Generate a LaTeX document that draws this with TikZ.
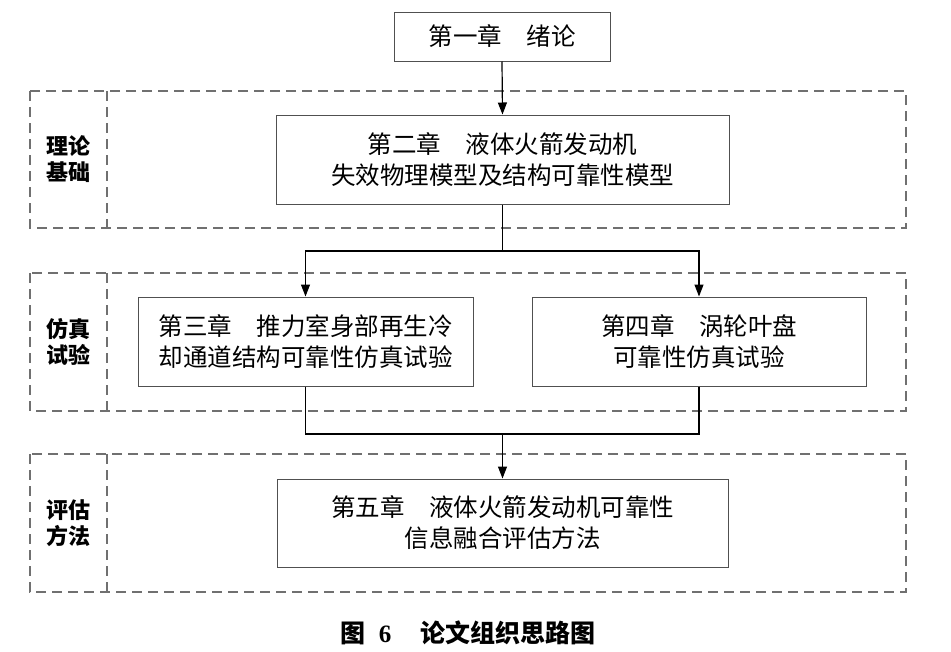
\documentclass[tikz,border=0pt]{standalone}
\usepackage{fontspec}
\newfontfamily\cjk{Noto Sans CJK SC}
\newfontfamily\tnr{Liberation Serif}
\usetikzlibrary{arrows.meta}
\definecolor{dashgray}{HTML}{707070}
\definecolor{boxgray}{HTML}{505050}
\tikzset{
  chapbox/.style={draw=boxgray, line width=1pt, rectangle, inner sep=0pt, align=center,
    font=\cjk\fontsize{24.5}{31}\selectfont, text=black},
  grp/.style={draw=dashgray, line width=1.2pt, dash pattern=on 10pt off 6pt},
  grplabel/.style={inner sep=0pt, align=center, font=\cjk\bfseries\fontsize{22}{26}\selectfont},
  conn/.style={draw=black, line width=1.2pt},
  arr/.style={conn, -{Triangle[length=12pt,width=9pt]}},
}
\begin{document}
\begin{tikzpicture}[x=1pt,y=-1pt]
\useasboundingbox (0,0) rectangle (951,651);
% groups
\draw[grp] (30,91) rectangle (906,228);
\draw[grp] (107,91) -- (107,228);
\draw[grp] (30,273) rectangle (906,411);
\draw[grp] (107,273) -- (107,411);
\draw[grp] (30,454) rectangle (906,592);
\draw[grp] (107,454) -- (107,592);
\node[grplabel] (l1) at (68.5,159.5) {理论\\基础};
\node[grplabel] (l2) at (68.5,342) {仿真\\试验};
\node[grplabel] (l3) at (68.5,523) {评估\\方法};
% boxes
\node[chapbox, minimum width=216pt, minimum height=49pt] (b1) at (502,36.5) {第一章　绪论};
\node[chapbox, minimum width=453pt, minimum height=89pt] (b2) at (502.5,159.5) {第二章　液体火箭发动机\\失效物理模型及结构可靠性模型};
\node[chapbox, minimum width=335pt, minimum height=89pt] (b3) at (305.5,341.5) {第三章　推力室身部再生冷\\却通道结构可靠性仿真试验};
\node[chapbox, minimum width=334pt, minimum height=89pt] (b4) at (699,341.5) {第四章　涡轮叶盘\\可靠性仿真试验};
\node[chapbox, minimum width=451pt, minimum height=88pt] (b5) at (502.5,523) {第五章　液体火箭发动机可靠性\\信息融合评估方法};
% connectors
\coordinate (br) at (502.5,251);
\coordinate (mg) at (502.5,434);
\draw[arr] (b1.south) -- (b2.north);
\draw[conn] (b2.south) -- (br);
\draw[arr] (br) -| (b3.north);
\draw[arr] (br) -| (b4.north);
\draw[conn] (b3.south) |- (mg);
\draw[conn] (b4.south) |- (mg);
\draw[arr] (mg) -- (b5.north);
% caption
\node[inner sep=0pt, font=\bfseries\fontsize{25}{28}\selectfont] (cap) at (468,633) {{\cjk 图}\hspace{13pt}{\tnr 6}\hspace{29pt}{\cjk 论文组织思路图}};
\end{tikzpicture}
\end{document}
